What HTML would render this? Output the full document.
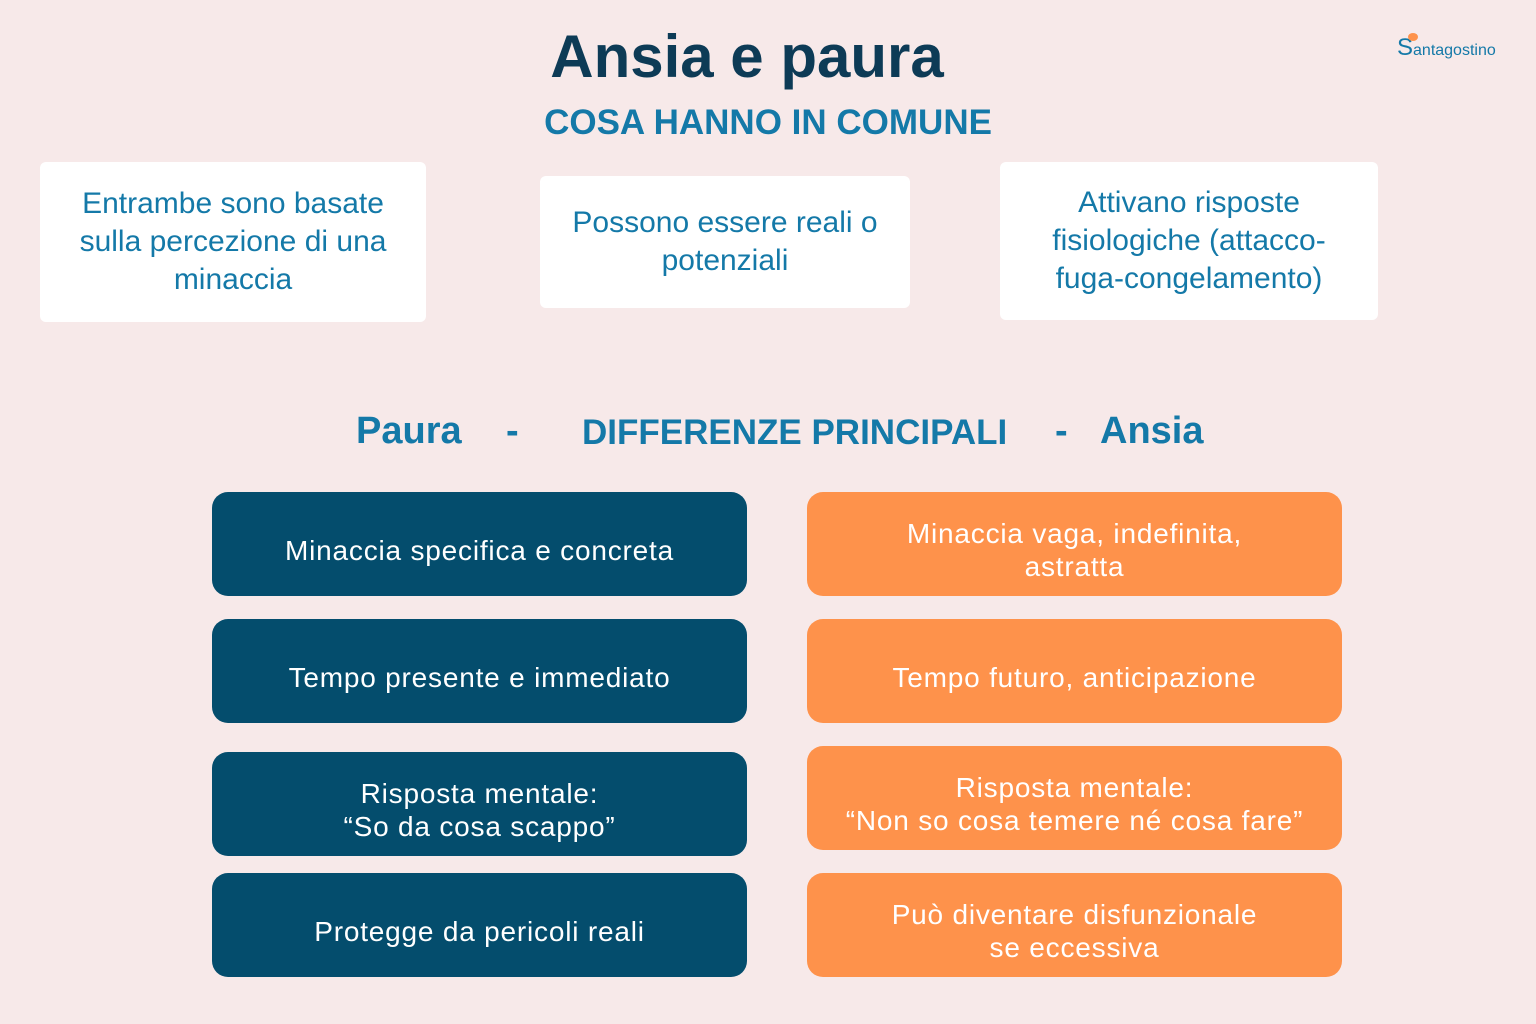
<!DOCTYPE html>
<html><head><meta charset="utf-8"><style>
body{margin:0;width:1536px;height:1024px;background:#f7e9e9;position:relative;overflow:hidden;font-family:"Liberation Sans",sans-serif}
.a{position:absolute}
h1{position:absolute;left:0;width:1494px;top:22px;margin:0;text-align:center;font-size:60px;font-weight:bold;color:#0d3b56;letter-spacing:0px}
.sub{left:0;width:1536px;top:103px;text-align:center;font-size:35px;font-weight:bold;color:#1479a8;letter-spacing:0px}
.w{background:#fff;color:#1479a8;font-size:30px;line-height:38px;text-align:center;display:flex;align-items:center;justify-content:center;border-radius:6px}
.h{top:410px;font-size:38px;font-weight:bold;color:#1479a8}
.b{width:535px;height:104px;border-radius:16px;color:#fff;font-size:28px;letter-spacing:0.8px;line-height:33px;text-align:center;display:flex;align-items:center;justify-content:center;box-sizing:border-box;padding-top:12px}
.d{left:212px;background:#044d6d}
.o{left:807px;background:#fe924b}
</style></head><body>
<h1>Ansia e paura</h1>
<div class="a sub">COSA HANNO IN COMUNE</div>
<div class="a" style="left:1397px;top:34px;font-size:16px;color:#1479a8"><span style="font-size:24px">S</span>antagostino</div>
<div class="a" style="left:1408px;top:33px;width:10px;height:8px;background:#fe924b;border-radius:50%"></div>
<div class="a w" style="left:40px;top:162px;width:386px;height:160px">Entrambe sono basate<br>sulla percezione di una<br>minaccia</div>
<div class="a w" style="left:540px;top:176px;width:370px;height:132px">Possono essere reali o<br>potenziali</div>
<div class="a w" style="left:1000px;top:162px;width:378px;height:158px">Attivano risposte<br>fisiologiche (attacco-<br>fuga-congelamento)</div>
<div class="a h" style="left:356px">Paura</div>
<div class="a h" style="left:506px">-</div>
<div class="a h" style="left:582px;font-size:35px;top:413px">DIFFERENZE PRINCIPALI</div>
<div class="a h" style="left:1055px">-</div>
<div class="a h" style="left:1100px">Ansia</div>
<div class="a b d" style="top:492px">Minaccia specifica e concreta</div>
<div class="a b d" style="top:619px">Tempo presente e immediato</div>
<div class="a b d" style="top:752px">Risposta mentale:<br>“So da cosa scappo”</div>
<div class="a b d" style="top:873px">Protegge da pericoli reali</div>
<div class="a b o" style="top:492px">Minaccia vaga, indefinita,<br>astratta</div>
<div class="a b o" style="top:619px">Tempo futuro, anticipazione</div>
<div class="a b o" style="top:746px">Risposta mentale:<br>“Non so cosa temere né cosa fare”</div>
<div class="a b o" style="top:873px">Può diventare disfunzionale<br>se eccessiva</div>
</body></html>
